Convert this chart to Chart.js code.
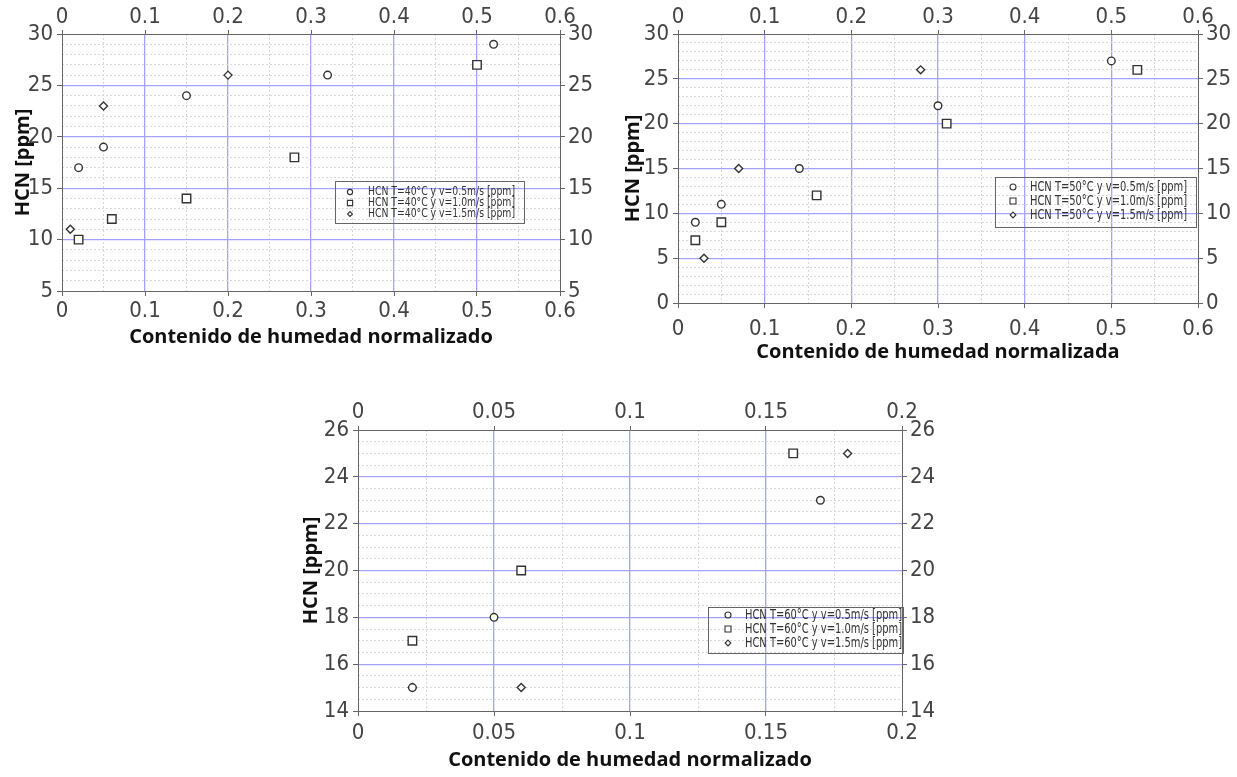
<!DOCTYPE html>
<html>
<head>
<meta charset="utf-8">
<script src="https://cdn.jsdelivr.net/npm/chart.js@4/dist/chart.umd.min.js"></script>
<style>
  body { margin: 0; background: #fff; width: 1237px; height: 777px; position: relative; overflow: hidden; }
  canvas { position: absolute; }
</style>
</head>
<body>
<canvas id="c40" width="605" height="350" style="left:0;top:0"></canvas>
<canvas id="c50" width="627" height="372" style="left:610px;top:0"></canvas>
<canvas id="c60" width="660" height="385" style="left:290px;top:392px"></canvas>
<script>
// ---- data ----
// 40 °C
let x40a = [0.02, 0.05, 0.15, 0.32, 0.52];
let y40a = [17, 19, 24, 26, 29];
let x40b = [0.02, 0.06, 0.15, 0.28, 0.50];
let y40b = [10, 12, 14, 18, 27];
let x40c = [0.01, 0.05, 0.20];
let y40c = [11, 23, 26];

// 50 °C
let x50a = [0.02, 0.05, 0.14, 0.30, 0.50];
let y50a = [9, 11, 15, 22, 27];
let x50b = [0.02, 0.05, 0.16, 0.31, 0.53];
let y50b = [7, 9, 12, 20, 26];
let x50c = [0.03, 0.07, 0.28];
let y50c = [5, 15, 26];

// 60 °C
let x60a = [0.02, 0.05, 0.17];
let y60a = [15, 18, 23];
let x60b = [0.02, 0.06, 0.16];
let y60b = [17, 20, 25];
let x60c = [0.02, 0.06, 0.18];
let y60c = [15, 15, 25];

let speeds = ['0.5', '1.0', '1.5'];
let xTitle40 = 'Contenido de humedad normalizado';
let xTitle50 = 'Contenido de humedad normalizada';
let xTitle60 = 'Contenido de humedad normalizado';
let yTitle = 'HCN [ppm]';

const narrow = '"Liberation Sans Narrow", "DejaVu Sans Condensed", sans-serif';
const tickFont = { family: narrow, size: 22 };
const titleFont = { family: '"Open Sans", "DejaVu Sans", sans-serif', size: 20, weight: 'bold' };
const majorColor = '#a2a2ff';
const minorColor = '#d8d8d8';
const frameColor = '#666';

function pts(xs, ys) {
    return xs.map((x, i) => ({ x: x, y: ys[i] }));
}

function isMajor(v, step) {
    let r = v / step;
    return Math.abs(r - Math.round(r)) < 1e-6;
}

// draws the little boxed legend inside the plot
const boxLegend = {
    id: 'boxLegend',
    afterDraw(chart, args, o) {
        let ctx = chart.ctx;
        let a = chart.chartArea;
        let x = a.left + o.dx, y = a.top + o.dy;
        ctx.save();
        ctx.strokeStyle = '#666';
        ctx.lineWidth = 1;
        ctx.strokeRect(Math.round(x) + 0.5, Math.round(y) + 0.5, o.w, o.h);
        chart.data.datasets.forEach((ds, i) => {
            let ry = y + o.first + i * o.gap;
            let sx = x + o.sx;
            ctx.strokeStyle = '#333';
            ctx.fillStyle = '#fff';
            ctx.lineWidth = 1.1;
            ctx.beginPath();
            if (ds.pointStyle === 'circle') {
                ctx.arc(sx, ry, o.sym, 0, Math.PI * 2);
            } else if (ds.pointStyle === 'rect') {
                ctx.rect(sx - o.sym, ry - o.sym, o.sym * 2, o.sym * 2);
            } else {
                let d = o.sym * 0.95;
                ctx.moveTo(sx, ry - d); ctx.lineTo(sx + d, ry); ctx.lineTo(sx, ry + d); ctx.lineTo(sx - d, ry); ctx.closePath();
            }
            ctx.fill();
            ctx.stroke();
            ctx.fillStyle = '#333';
            ctx.font = o.fontSize + 'px ' + narrow;
            ctx.textBaseline = 'middle';
            let tw = ctx.measureText(ds.label).width;
            ctx.save();
            ctx.translate(x + o.tx, ry);
            ctx.scale(o.tw / tw, 1);
            ctx.fillText(ds.label, 0, 0);
            ctx.restore();
        });
        ctx.restore();
    }
};

function makeChart(id, temp, sets, c) {
    let ctx = document.getElementById(id).getContext('2d');
    let styles = ['circle', 'rect', 'rectRot'];
    let radii = [3.8, 6, 4];
    let datasets = sets.map((s, i) => ({
        label: 'HCN T=' + temp + '°C y v=' + speeds[i] + 'm/s [ppm]',
        data: pts(s[0], s[1]),
        pointStyle: styles[i],
        pointRadius: radii[i],
        pointBorderWidth: 1.4,
        borderColor: '#333',
        backgroundColor: '#fff',
        pointBackgroundColor: '#fff',
        pointBorderColor: '#333',
        showLine: false
    }));

    let tick = (step, pad) => ({
        stepSize: step, font: tickFont, color: '#444', padding: pad, autoSkip: false, maxRotation: 0,
        callback: v => String(+v.toFixed(4))
    });

    // one axis per direction draws every grid line: blue solid at major steps, grey dotted between
    let gridAxis = (pos, min, max, minor, major, fit) => ({
        type: 'linear', position: pos, min: min, max: max,
        ticks: { display: false, stepSize: minor, autoSkip: false },
        grid: {
            drawTicks: false,
            color: t => {
                let v = t.tick.value;
                if (Math.abs(v - min) < 1e-9 || Math.abs(v - max) < 1e-9) return 'rgba(0,0,0,0)';
                return isMajor(v, major) ? majorColor : minorColor;
            },
            lineWidth: t => isMajor(t.tick.value, major) ? 1.3 : 1
        },
        border: {
            display: false,
            dash: t => (t.tick && isMajor(t.tick.value, major)) ? [] : [2, 2]
        },
        afterFit: fit
    });

    return new Chart(ctx, {
        type: 'scatter',
        data: { datasets: datasets },
        plugins: [boxLegend],
        options: {
            responsive: false,
            animation: false,
            layout: { padding: 0 },
            plugins: {
                legend: { display: false },
                tooltip: { enabled: false },
                boxLegend: c.legend
            },
            scales: {
                xm: gridAxis('bottom', c.xMin, c.xMax, c.xMinor, c.xStep, s => { s.height = 0; }),
                ym: gridAxis('left', c.yMin, c.yMax, c.yMinor, c.yStep, s => { s.width = 0; }),
                x: {
                    type: 'linear', position: 'bottom', min: c.xMin, max: c.xMax,
                    ticks: tick(c.xStep, c.bPad),
                    grid: { drawOnChartArea: false, tickLength: 5, tickColor: frameColor },
                    border: { color: frameColor, width: 1 },
                    title: { display: true, text: c.xTitle, font: titleFont, color: '#111', padding: { top: 0, bottom: c.xTitlePad } },
                    afterFit: s => { s.height = c.B; }
                },
                x2: {
                    type: 'linear', position: 'top', min: c.xMin, max: c.xMax,
                    ticks: tick(c.xStep, c.tPad),
                    grid: { drawOnChartArea: false, tickLength: 4, tickColor: frameColor },
                    border: { color: frameColor, width: 1 },
                    afterFit: s => { s.height = c.T; }
                },
                y: {
                    type: 'linear', position: 'left', min: c.yMin, max: c.yMax,
                    ticks: tick(c.yStep, 4),
                    grid: { drawOnChartArea: false, tickLength: 5, tickColor: frameColor },
                    border: { color: frameColor, width: 1 },
                    title: { display: true, text: yTitle, font: titleFont, color: '#111', padding: { top: c.yTitlePad, bottom: 0 } },
                    afterFit: s => { s.width = c.L; }
                },
                y2: {
                    type: 'linear', position: 'right', min: c.yMin, max: c.yMax,
                    ticks: tick(c.yStep, 3),
                    grid: { drawOnChartArea: false, tickLength: 5, tickColor: frameColor },
                    border: { color: frameColor, width: 1 },
                    afterFit: s => { s.width = c.R; }
                }
            }
        }
    });
}

makeChart('c40', 40, [[x40a, y40a], [x40b, y40b], [x40c, y40c]], {
    xMin: 0, xMax: 0.6, xStep: 0.1, xMinor: 0.05,
    yMin: 5, yMax: 30, yStep: 5, yMinor: 1,
    L: 62, R: 45, T: 34, B: 59, bPad: 2, tPad: 0,
    xTitle: xTitle40, xTitlePad: 1, yTitlePad: 11,
    legend: { dx: 273, dy: 147, w: 189, h: 42, sx: 15, tx: 33, tw: 147, first: 11, gap: 11, sym: 2.6, fontSize: 13 }
});

makeChart('c50', 50, [[x50a, y50a], [x50b, y50b], [x50c, y50c]], {
    xMin: 0, xMax: 0.6, xStep: 0.1, xMinor: 0.05,
    yMin: 0, yMax: 30, yStep: 5, yMinor: 1,
    L: 68, R: 39, T: 34, B: 69, bPad: 8, tPad: 0,
    xTitle: xTitle50, xTitlePad: 8, yTitlePad: 11,
    legend: { dx: 317, dy: 143, w: 201, h: 50, sx: 18, tx: 35, tw: 157, first: 10, gap: 14, sym: 3, fontSize: 14 }
});

makeChart('c60', 60, [[x60a, y60a], [x60b, y60b], [x60c, y60c]], {
    xMin: 0, xMax: 0.2, xStep: 0.05, xMinor: 0.025,
    yMin: 14, yMax: 26, yStep: 2, yMinor: 0.5,
    L: 68, R: 48, T: 38, B: 66, bPad: 4, tPad: 1,
    xTitle: xTitle60, xTitlePad: 5, yTitlePad: 9,
    legend: { dx: 350, dy: 177, w: 195, h: 46, sx: 20, tx: 37, tw: 157, first: 8, gap: 14, sym: 3, fontSize: 14 }
});
</script>
</body>
</html>
